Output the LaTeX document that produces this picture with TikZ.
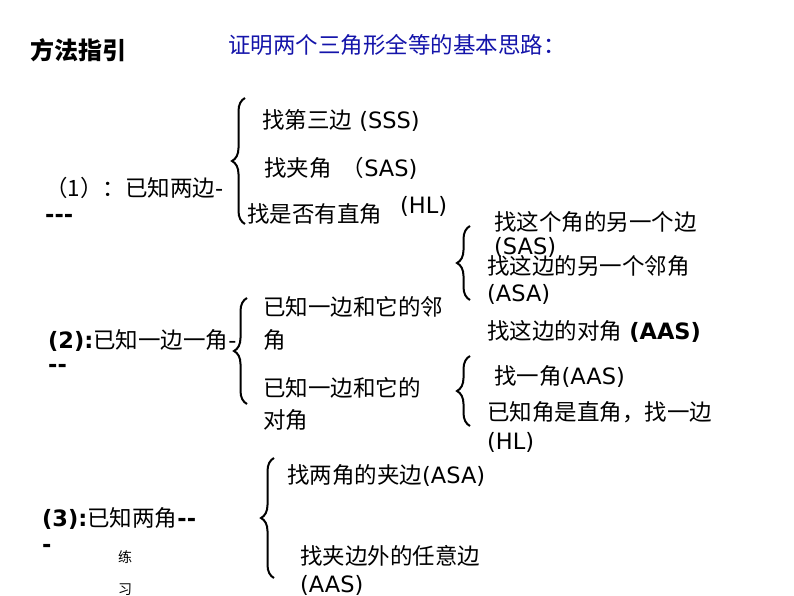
\documentclass[tikz,border=0pt]{standalone}
\usepackage{fontspec}
\setmainfont{DejaVu Sans}[Ligatures=NoCommon]
\newfontfamily\cjk{Noto Sans CJK SC}
\usetikzlibrary{decorations.pathreplacing}
\begin{document}
\begin{tikzpicture}[x=1pt,y=-1pt,
  t/.style={anchor=west,inner sep=0pt,font=\fontsize{22.5}{24}\selectfont},
  br/.style={decorate,decoration={brace,amplitude=13pt},line width=2pt}]
\useasboundingbox (0,0) rectangle (794,596);
\fill[white] (0,0) rectangle (794,596);
\node[t,font=\fontsize{24}{26}\selectfont\bfseries] (h) at (30,50) {\cjk 方法指引};
\node[t,text={rgb,255:red,20;green,20;blue,170}] (title) at (228,45) {\cjk 证明两个三角形全等的基本思路：};
% group 1
\node[t] (a1) at (262,120) {{\cjk 找第三边} (SSS)};
\node[t] (a2) at (264,168) {{\cjk 找夹角\ \ （}SAS)};
\node[t] (a0) at (45,188) {{\cjk （1）：已知两边}-};
\node[t] (a0b) at (45,218) {\bfseries {-}{-}{-}};
\node[t] (a3) at (247,214) {\cjk 找是否有直角};
\node[t] (a3b) at (400,206) {(HL)};
\coordinate (b1t) at (245,98); \coordinate (b1b) at (245,224);
\draw[br] (b1b) -- (b1t);
% group 2
\node[t] (c0) at (48,340) {{\bfseries (2):}{\cjk 已知一边一角}-};
\node[t] (c0b) at (48,368) {\bfseries {-}{-}};
\node[t] (c1) at (263,307) {\cjk 已知一边和它的邻};
\node[t] (c1b) at (263,340) {\cjk 角};
\node[t] (c2) at (263,388) {\cjk 已知一边和它的};
\node[t] (c2b) at (263,420) {\cjk 对角};
\coordinate (b2t) at (247,298); \coordinate (b2b) at (247,404);
\draw[br] (b2b) -- (b2t);
\node[t] (d1) at (494,222) {\cjk 找这个角的另一个边};
\node[t] (d1b) at (494,247) {(SAS)};
\node[t] (d2) at (487,266) {\cjk 找这边的另一个邻角};
\node[t] (d2b) at (487,294) {(ASA)};
\node[t] (d3) at (487,331) {{\cjk 找这边的对角} \bfseries (AAS)};
\coordinate (b3t) at (470,226); \coordinate (b3b) at (470,300);
\draw[br] (b3b) -- (b3t);
\node[t] (e1) at (494,376) {{\cjk 找一角}(AAS)};
\node[t] (e2) at (487,412) {\cjk 已知角是直角，找一边};
\node[t] (e2b) at (487,442) {(HL)};
\coordinate (b4t) at (470,356); \coordinate (b4b) at (470,426);
\draw[br] (b4b) -- (b4t);
% group 3
\node[t] (f0) at (42,518) {{\bfseries (3):}{\cjk 已知两角}\bfseries {-}{-}};
\node[t] (f0b) at (42,548) {\bfseries -};
\node[t,font=\fontsize{14}{16}\selectfont] (lx) at (118,557) {\cjk 练};
\node[t,font=\fontsize{14}{16}\selectfont] (lx2) at (118,590) {\cjk 习};
\node[t] (f1) at (287,475) {{\cjk 找两角的夹边}(ASA)};
\node[t] (f2) at (300,556) {\cjk 找夹边外的任意边};
\node[t] (f2b) at (300,585) {(AAS)};
\coordinate (b5t) at (274,458); \coordinate (b5b) at (274,578);
\draw[br] (b5b) -- (b5t);
\end{tikzpicture}
\end{document}
